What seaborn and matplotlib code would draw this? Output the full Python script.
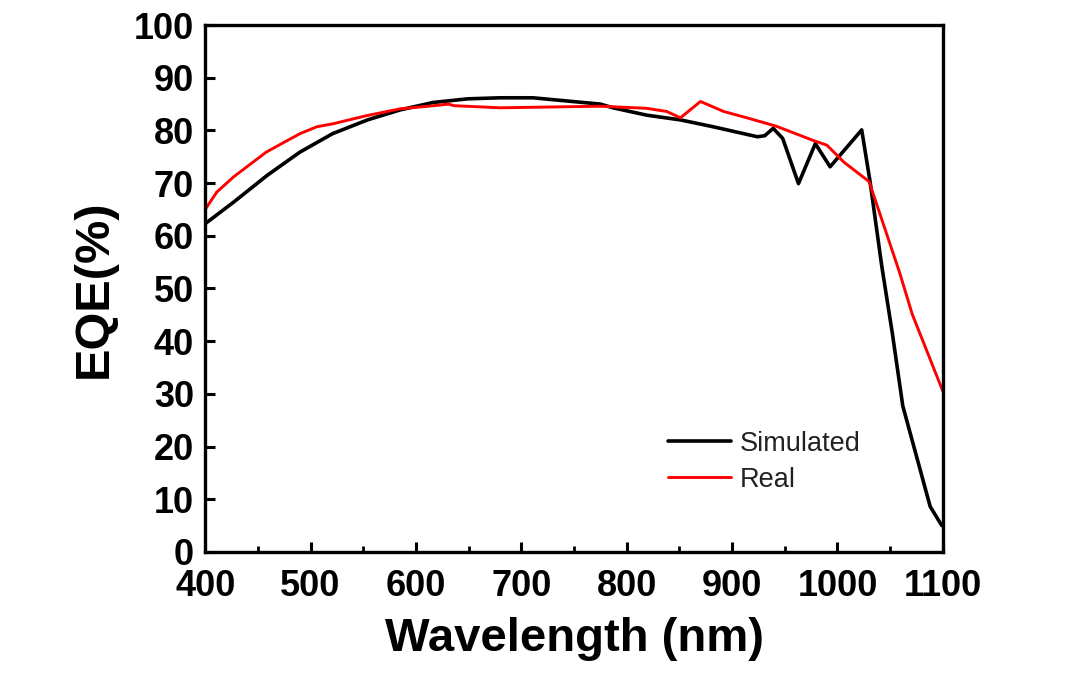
import numpy as np
import pandas as pd
import matplotlib
matplotlib.use("Agg")
import matplotlib.pyplot as plt
from matplotlib.ticker import MultipleLocator
import seaborn as sns

# Simulated EQE
sim_wl = [400, 427, 459, 490, 521, 554, 585, 616, 649, 680, 711, 743, 775, 787, 819, 851,
          882, 924, 931, 939, 948, 963, 979, 993, 1023, 1031, 1042, 1052, 1062, 1088, 1099]
sim_eqe = [62.3, 66.4, 71.5, 75.9, 79.4, 82.0, 83.9, 85.3, 86.0, 86.2, 86.2, 85.6, 85.0, 84.3,
           82.9, 82.0, 80.7, 78.8, 79.0, 80.4, 78.5, 69.9, 77.5, 73.1, 80.1, 70.2, 54.3, 41.6,
           27.7, 8.6, 5.0]

# Real (measured) EQE
real_wl = [400, 411, 427, 458, 490, 506, 522, 553, 585, 617, 631, 636, 680, 743, 775, 819,
           838, 851, 870, 892, 914, 942, 977, 990, 1006, 1030, 1059, 1071, 1100]
real_eqe = [65.0, 68.3, 71.2, 75.9, 79.4, 80.7, 81.3, 82.8, 84.1, 84.7, 85.0, 84.7, 84.3, 84.5,
            84.6, 84.2, 83.6, 82.4, 85.5, 83.6, 82.4, 80.8, 78.1, 77.2, 74.0, 70.3, 53.0, 45.1,
            30.5]

series_names = ["Simulated", "Real"]
series_colors = ["#000000", "#ff0000"]

df = pd.concat([
    pd.DataFrame({"Wavelength": sim_wl, "EQE": sim_eqe, "Series": series_names[0]}),
    pd.DataFrame({"Wavelength": real_wl, "EQE": real_eqe, "Series": series_names[1]}),
], ignore_index=True)

sns.set_style("ticks")
plt.rcParams["font.family"] = ["Liberation Sans", "DejaVu Sans"]
plt.rcParams["text.color"] = "black"
plt.rcParams["axes.labelcolor"] = "black"
plt.rcParams["xtick.color"] = "black"
plt.rcParams["ytick.color"] = "black"

fig = plt.figure(figsize=(10.8, 6.78), dpi=100)
ax = fig.add_axes([0.19, 0.186, 0.683, 0.777])

sns.lineplot(data=df, x="Wavelength", y="EQE", hue="Series", hue_order=series_names,
             palette=dict(zip(series_names, series_colors)), sort=False,
             estimator=None, ax=ax, linewidth=2.4)
for line, lw in zip(ax.get_lines(), [2.6, 2.1]):
    line.set_linewidth(lw)

ax.set_xlim(400, 1100)
ax.set_ylim(0, 100)
ax.xaxis.set_major_locator(MultipleLocator(100))
ax.xaxis.set_minor_locator(MultipleLocator(50))
ax.yaxis.set_major_locator(MultipleLocator(10))

for sp in ax.spines.values():
    sp.set_visible(True)
    sp.set_linewidth(2.4)
    sp.set_color("black")

ax.tick_params(axis="both", which="major", direction="in", length=7, width=2.2,
               labelsize=26, colors="black")
ax.tick_params(axis="x", which="major", pad=12)
ax.tick_params(axis="y", which="major", pad=8)
ax.tick_params(axis="x", which="minor", direction="in", length=4, width=2.0, colors="black")
ax.tick_params(top=False, right=False)
for lab in ax.get_xticklabels() + ax.get_yticklabels():
    lab.set_fontweight("bold")

ax.set_xlabel("Wavelength (nm)", fontsize=34, fontweight="bold", labelpad=10, color="black")
ax.set_ylabel("EQE(%)", fontsize=35, fontweight="bold", labelpad=12, color="black")

leg = ax.legend(loc="lower left", bbox_to_anchor=(0.595, 0.066), frameon=False,
                fontsize=19.5, handlelength=2.3, handletextpad=0.35, labelspacing=0.37)
for h, lw in zip(leg.get_lines(), [2.6, 2.1]):
    h.set_linewidth(lw)
for t in leg.get_texts():
    t.set_color("#222222")

fig.savefig("out.png", dpi=100, facecolor="white")
